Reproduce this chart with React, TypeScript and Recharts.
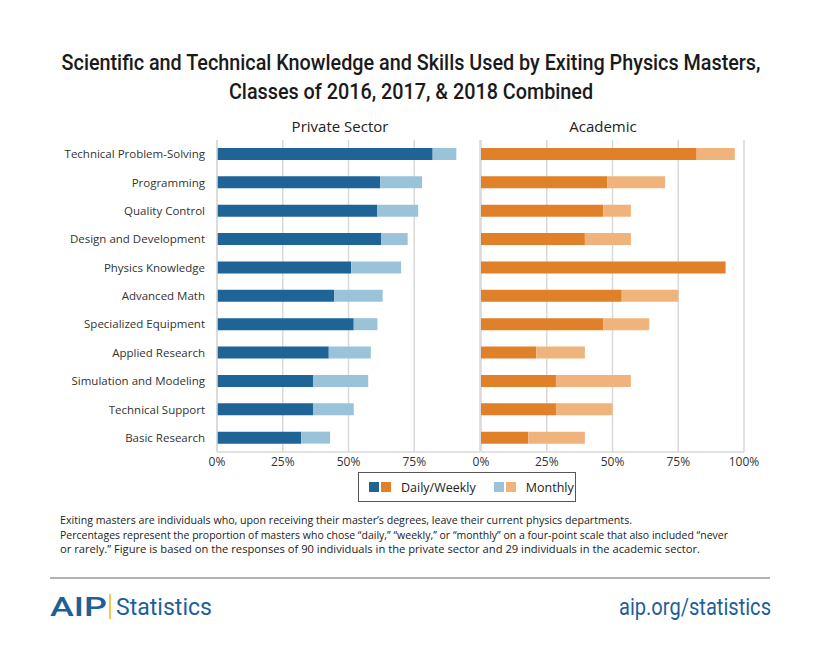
import { BarChart, Bar, XAxis, YAxis, CartesianGrid } from "recharts"

const categories = [
  "Technical Problem-Solving",
  "Programming",
  "Quality Control",
  "Design and Development",
  "Physics Knowledge",
  "Advanced Math",
  "Specialized Equipment",
  "Applied Research",
  "Simulation and Modeling",
  "Technical Support",
  "Basic Research",
]
const privateDaily = [82, 62, 61, 62.5, 51, 44.5, 52, 42.5, 36.5, 36.5, 32]
const privateMonthly = [9, 16, 15.5, 10, 19, 18.5, 9, 16, 21, 15.5, 11]
const academicDaily = [82, 48, 46.5, 39.5, 93, 53.5, 46.5, 21, 28.5, 28.5, 18]
const academicMonthly = [14.5, 22, 10.5, 17.5, 0, 21.5, 17.5, 18.5, 28.5, 21.5, 21.5]
const pctTicks = [0, 25, 50, 75, 100]

const footnotes = [
  "Exiting masters are individuals who, upon receiving their master\u2019s degrees,  leave their current physics departments.",
  "Percentages represent the proportion of masters who chose \u201cdaily,\u201d \u201cweekly,\u201d or \u201cmonthly\u201d on a four-point scale that also included \u201cnever",
  "or rarely.\u201d Figure is based on the responses of 90 individuals in the private sector and 29 individuals in the academic sector.",
]

const privateData = categories.map((c, i) => ({ name: c, daily: privateDaily[i], monthly: privateMonthly[i] }))
const academicData = categories.map((c, i) => ({ name: c, daily: academicDaily[i], monthly: academicMonthly[i] }))

const BLUE = "#1f6497"
const LBLUE = "#9ac3da"
const ORANGE = "#e08028"
const LORANGE = "#f0b37b"
const GRID = "#d9d9d9"
const FONT = "'Open Sans', sans-serif"
const NARROW = "Roboto, 'Liberation Sans Narrow', sans-serif"
const tickStyle = { fontSize: 12, fill: "#333", fontFamily: FONT }
const catStyle = { fontSize: 11.5, fill: "#333", fontFamily: FONT }

function Panel({ data, dark, light, showCats, hide100, width, marginLeft, marginRight }: any) {
  return (
    <BarChart
      width={width}
      height={342}
      data={data}
      layout="vertical"
      barSize={12}
      margin={{ top: 0, right: marginRight, left: marginLeft, bottom: 0 }}
    >
      <CartesianGrid horizontal={false} stroke={GRID} strokeWidth={1.5} />
      <XAxis
        type="number"
        domain={[0, 100]}
        ticks={pctTicks}
        height={30}
        tickLine={false}
        tickSize={3}
        axisLine={{ stroke: GRID, strokeWidth: 1.5 }}
        tick={tickStyle}
        tickFormatter={(v: number) => (hide100 && v === 100 ? "" : `${v}%`)}
        interval={0}
      />
      <XAxis
        xAxisId="top"
        orientation="top"
        type="number"
        domain={[0, 100]}
        height={0}
        tick={false}
        tickLine={false}
        axisLine={{ stroke: GRID, strokeWidth: 1.5 }}
      />
      <YAxis
        type="category"
        dataKey="name"
        width={showCats ? 217 : 0}
        hide={!showCats}
        tickLine={false}
        tickSize={0}
        tickMargin={12}
        axisLine={{ stroke: GRID, strokeWidth: 1.5 }}
        tick={catStyle}
        interval={0}
      />
      <Bar dataKey="daily" stackId="a" fill={dark} isAnimationActive={false} />
      <Bar dataKey="monthly" stackId="a" fill={light} isAnimationActive={false} />
    </BarChart>
  )
}

function Swatch({ color }: { color: string }) {
  return <span style={{ display: "inline-block", width: 10, height: 10, background: color, marginRight: 2 }} />
}

export default function App() {
  return (
    <div style={{ position: "absolute", left: 0, top: 0, width: 820, height: 657, background: "#fff", overflow: "hidden" }}>
      <svg width={820} height={657} style={{ position: "absolute", left: 0, top: 0 }}>
        <g fontFamily={NARROW} fontWeight={500} fill="#1a1a1a" fontSize={22} textAnchor="middle">
          <g transform="translate(411,70) scale(0.9,1)">
            <text x={0} y={0}>Scientific and Technical Knowledge and Skills Used by Exiting Physics Masters,</text>
          </g>
          <g transform="translate(411,99) scale(0.9,1)">
            <text x={0} y={0}>Classes of 2016, 2017, &amp; 2018 Combined</text>
          </g>
        </g>
        <g fontFamily={FONT} fontSize={15} fill="#222" textAnchor="middle">
          <text x={340} y={132}>Private Sector</text>
          <text x={603} y={132}>Academic</text>
        </g>
        <g fontFamily={FONT} fontSize={11} fill="#222" style={{ whiteSpace: "pre" }}>
          {footnotes.map((t, i) => (
            <text key={i} x={60} y={524 + i * 14.5} textLength={[572, 668, 640][i]} lengthAdjust="spacingAndGlyphs">
              {t}
            </text>
          ))}
        </g>
        <line x1={50} x2={770} y1={578} y2={578} stroke="#9a9a9a" strokeWidth={1.5} />
        <g fill="#1f5f99" fontFamily={NARROW}>
          <text x={50} y={616} fontSize={25} fontWeight={500} textLength={57} lengthAdjust="spacingAndGlyphs">AIP</text>
          <text x={116} y={615} fontSize={23} textLength={96} lengthAdjust="spacingAndGlyphs">Statistics</text>
          <text x={771} y={615} fontSize={23} textAnchor="end" textLength={152} lengthAdjust="spacingAndGlyphs">aip.org/statistics</text>
        </g>
        <line x1={110} x2={110} y1={594} y2={619} stroke="#f2b41c" strokeWidth={1.5} />
      </svg>

      <div style={{ position: "absolute", left: 0, top: 140 }}>
        <Panel data={privateData} dark={BLUE} light={LBLUE} showCats hide100 width={481} marginLeft={0} marginRight={1} />
      </div>
      <div style={{ position: "absolute", left: 461, top: 140 }}>
        <Panel data={academicData} dark={ORANGE} light={LORANGE} showCats={false} hide100={false} width={303} marginLeft={20} marginRight={20} />
      </div>

      <div
        style={{
          position: "absolute",
          left: 358,
          top: 472,
          width: 216,
          height: 28,
          border: "1.5px solid #555",
          display: "flex",
          alignItems: "center",
          fontFamily: FONT,
          fontSize: 12.5,
          color: "#222",
          boxSizing: "content-box",
        }}
      >
        <span style={{ marginLeft: 10 }} />
        <Swatch color={BLUE} />
        <Swatch color={ORANGE} />
        <span style={{ marginLeft: 8 }}>Daily/Weekly</span>
        <span style={{ marginLeft: 18 }} />
        <Swatch color={LBLUE} />
        <Swatch color={LORANGE} />
        <span style={{ marginLeft: 8 }}>Monthly</span>
      </div>
    </div>
  )
}
